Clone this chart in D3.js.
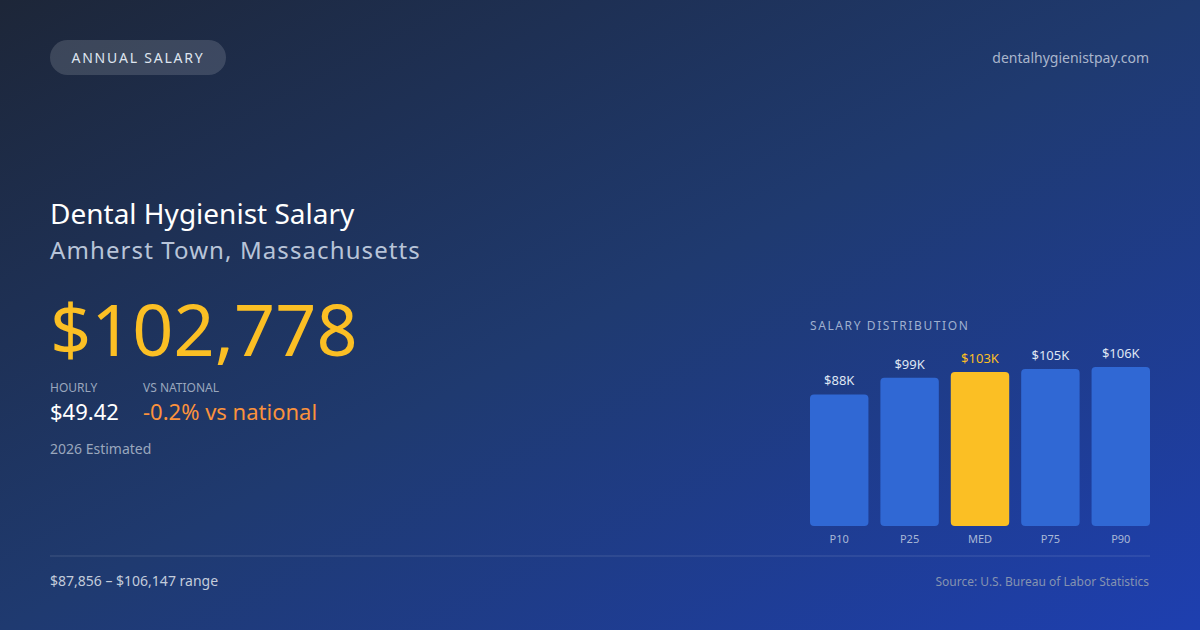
<!DOCTYPE html>
<html><head><meta charset="utf-8">
<script src="https://cdn.jsdelivr.net/npm/d3@7"></script>
<style>body{margin:0;overflow:hidden}svg{display:block;font-family:"Noto Sans",sans-serif}</style>
</head><body>
<script>
const categories = ["P10","P25","MED","P75","P90"];
const values = [87856, 98900, 102778, 104800, 106147];
const valueLabels = ["$88K","$99K","$103K","$105K","$106K"];
const highlight = "MED";

const W=1200,H=630;
const svg=d3.select("body").append("svg").attr("width",W).attr("height",H);
const defs=svg.append("defs");
const g=defs.append("linearGradient").attr("id","bg").attr("x1","0").attr("y1","0").attr("x2","1").attr("y2","1");
g.append("stop").attr("offset","0").attr("stop-color","#1d2638");
g.append("stop").attr("offset","0.5").attr("stop-color","#1f3a70");
g.append("stop").attr("offset","1").attr("stop-color","#1e3fb0");
svg.append("rect").attr("width",W).attr("height",H).attr("fill","url(#bg)");

svg.append("rect").attr("x",50).attr("y",40).attr("width",176).attr("height",35).attr("rx",17.5).attr("fill","rgba(255,255,255,0.14)");
svg.append("text").attr("x",138).attr("y",63).attr("text-anchor","middle").attr("fill","#dfe5ef").attr("font-size",14).attr("letter-spacing",1.8).text("ANNUAL SALARY");
svg.append("text").attr("x",1149).attr("y",63).attr("text-anchor","end").attr("fill","#aab6cc").attr("font-size",14).text("dentalhygienistpay.com");

svg.append("text").attr("x",50).attr("y",224).attr("fill","#ffffff").attr("font-size",28).text("Dental Hygienist Salary");
svg.append("text").attr("x",50).attr("y",259).attr("fill","#b8c4d8").attr("font-size",24).attr("letter-spacing",1.1).text("Amherst Town, Massachusetts");
svg.append("text").attr("x",50).attr("y",356).attr("fill","#fbbf24").attr("font-size",72).text("$102,778");
svg.append("text").attr("x",50).attr("y",392).attr("fill","#9aa7bd").attr("font-size",12).text("HOURLY");
svg.append("text").attr("x",143).attr("y",392).attr("fill","#9aa7bd").attr("font-size",12).text("VS NATIONAL");
svg.append("text").attr("x",50).attr("y",420).attr("fill","#ffffff").attr("font-size",22).text("$49.42");
svg.append("text").attr("x",143).attr("y",420).attr("fill","#fb923c").attr("font-size",22).text("-0.2% vs national");
svg.append("text").attr("x",50).attr("y",454).attr("fill","#9aa7bd").attr("font-size",14).text("2026 Estimated");

svg.append("line").attr("x1",50).attr("x2",1150).attr("y1",556).attr("y2",556).attr("stroke","rgba(255,255,255,0.15)");
svg.append("text").attr("x",50).attr("y",586).attr("fill","#c3ccdb").attr("font-size",14).text("$87,856 – $106,147 range");
svg.append("text").attr("x",1149).attr("y",586).attr("text-anchor","end").attr("fill","#8593b0").attr("font-size",12).text("Source: U.S. Bureau of Labor Statistics");

svg.append("text").attr("x",810).attr("y",330).attr("fill","#9fb0cf").attr("font-size",12).attr("letter-spacing",1.6).text("SALARY DISTRIBUTION");
const x=d3.scaleBand().domain(categories).range([810,1150]).paddingInner(0.17).paddingOuter(0);
const y=d3.scaleLinear().domain([0,d3.max(values)]).range([526,367]);
const data=categories.map((c,i)=>({c,v:values[i],l:valueLabels[i]}));
const bars=svg.append("g");
bars.selectAll("rect").data(data).join("rect")
 .attr("x",d=>x(d.c)).attr("width",x.bandwidth()).attr("y",d=>y(d.v)).attr("height",d=>526-y(d.v)).attr("rx",4)
 .attr("fill",d=>d.c===highlight?"#fbbf24":"#3068d4");
bars.selectAll(".vl").data(data).join("text").attr("class","vl")
 .attr("x",d=>x(d.c)+x.bandwidth()/2).attr("y",d=>y(d.v)-9).attr("text-anchor","middle").attr("font-size",13)
 .attr("fill",d=>d.c===highlight?"#fbbf24":"#dfe6f3").text(d=>d.l);
bars.selectAll(".cl").data(data).join("text").attr("class","cl")
 .attr("x",d=>x(d.c)+x.bandwidth()/2).attr("y",543).attr("text-anchor","middle").attr("font-size",11)
 .attr("fill","#a9b8d6").text(d=>d.c);
</script></body></html>
